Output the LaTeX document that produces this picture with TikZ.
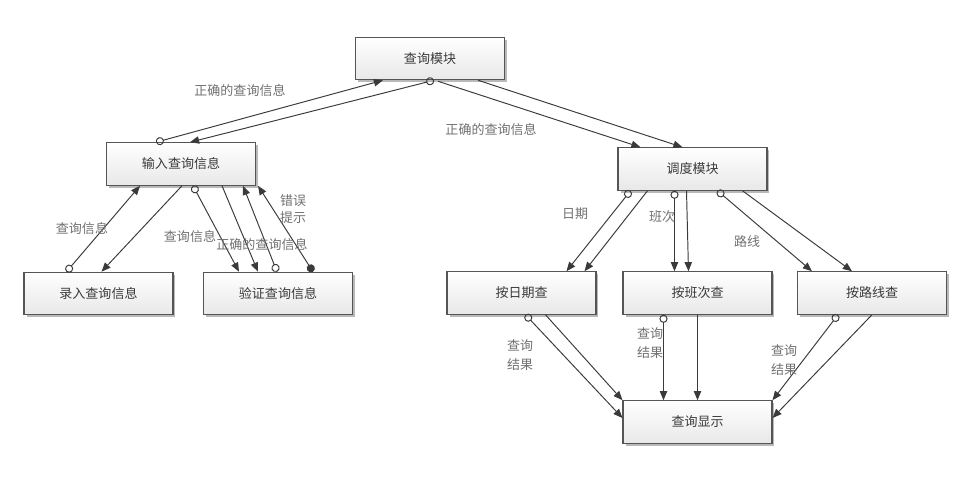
\documentclass[tikz,border=0pt]{standalone}
\usepackage{fontspec}
\setmainfont{Noto Sans CJK SC}
\usepackage{tikz}
\usetikzlibrary{arrows.meta, calc, shadows}
\definecolor{linie}{HTML}{3A3A3A}
\definecolor{schrift}{HTML}{3A3A3A}
\definecolor{notiz}{HTML}{707070}
\definecolor{rahmen}{HTML}{555555}

\begin{document}
\begin{tikzpicture}[x=0.02cm, y=-0.02cm,
    kasten/.style={draw=rahmen, line width=0.6pt, minimum width=2.98cm, minimum height=0.85cm,
      inner sep=0pt, top color=white, bottom color=gray!18, text=schrift,
      font=\fontsize{7.4}{8}\selectfont,
      drop shadow={shadow xshift=0.05cm, shadow yshift=-0.05cm, fill=gray!55, opacity=1}},
    fluss/.style={draw=linie, line width=0.55pt, -{Triangle[length=5.2pt, width=4.2pt]}},
    ring/.style={fluss, {Circle[open, length=4.6pt]}-{Triangle[length=5.2pt, width=4.2pt]}},
    punkt/.style={fluss, {Circle[length=4.6pt]}-{Triangle[length=5.2pt, width=4.2pt]}},
    beschr/.style={text=notiz, inner sep=1pt, align=center,
      font=\fontsize{7.4}{10.8}\selectfont}]
  \useasboundingbox (0,0) rectangle (978,499);

  % Module
  \foreach \n/\x/\y/\t in {chaxun/430/58.5/查询模块, shuru/181/164/输入查询信息,
      luru/98.5/293.5/录入查询信息, yanzheng/278/293.5/验证查询信息,
      diaodu/692.5/169/调度模块, riqi/521.5/293/按日期查,
      banci/697.5/293/按班次查, luxian/872/293/按路线查,
      xianshi/697.5/422/查询显示} {
    \node[kasten] (\n) at (\x,\y) {\t};
  }

  % oben
  \draw[ring] ($(shuru.north)+(-25,0)$) -- ($(chaxun.south)+(-47,0)$);
  \draw[ring] ($(chaxun.south)+(4,0)$) -- ($(shuru.north)+(9,0)$);
  \draw[fluss] ($(chaxun.south)+(8,1)$) -- ($(diaodu.north)+(-52,0)$);
  \draw[fluss] ($(chaxun.south)+(48,0)$) -- ($(diaodu.north)+(-10,0)$);
  \node[beschr] (l1) at (240,91) {正确的查询信息};
  \node[beschr] (l2) at (491,130) {正确的查询信息};

  % links
  \draw[ring] ($(luru.north)+(-32,0)$) -- ($(shuru.south)+(-41,0)$);
  \draw[fluss] ($(shuru.south)+(1,0)$) -- ($(luru.north)+(3,0)$);
  \draw[ring] ($(shuru.south)+(12,0)$) -- ($(yanzheng.north)+(-39,0)$);
  \draw[fluss] ($(shuru.south)+(41,0)$) -- ($(yanzheng.north)+(-20,0)$);
  \draw[ring] ($(yanzheng.north)+(-1,0)$) -- ($(shuru.south)+(62,0)$);
  \draw[punkt] ($(yanzheng.north)+(35,0)$) -- ($(shuru.south east)+(2,0)$);
  \node[beschr] (l3) at (82,229) {查询信息};
  \node[beschr] (l4) at (190,237) {查询信息};
  \node[beschr] (l5) at (262,245) {正确的查询信息};
  \node[beschr, font=\fontsize{7.4}{10}\selectfont] (l6) at (293,209) {错误\\提示};

  % rechts
  \draw[ring] ($(diaodu.south)+(-62,0)$) -- ($(riqi.north)+(45,0)$);
  \draw[fluss] ($(diaodu.south)+(-45,0)$) -- ($(riqi.north)+(63,0)$);
  \draw[ring] ($(diaodu.south)+(-18,0)$) -- ($(banci.north)+(-23,0)$);
  \draw[fluss] ($(diaodu.south)+(-6,0)$) -- ($(banci.north)+(-9,0)$);
  \draw[ring] ($(diaodu.south)+(25,0)$) -- ($(luxian.north)+(-60,0)$);
  \draw[fluss] ($(diaodu.south)+(50,0)$) -- ($(luxian.north)+(-20,0)$);
  \node[beschr] (l7) at (575,214) {日期};
  \node[beschr] (l8) at (662,217) {班次};
  \node[beschr] (l9) at (747,242) {路线};

  % unten
  \draw[ring] ($(riqi.south)+(4,0)$) -- ($(xianshi.west)+(0,-4)$);
  \draw[fluss] ($(riqi.south)+(24,0)$) -- (xianshi.north west);
  \draw[ring] ($(banci.south)+(-34,0)$) -- ($(xianshi.north)+(-34,0)$);
  \draw[fluss] (banci.south) -- (xianshi.north);
  \draw[ring] ($(luxian.south)+(-34,0)$) -- (xianshi.north east);
  \draw[fluss] (luxian.south) -- ($(xianshi.east)+(0,-4)$);
  \node[beschr] (l10) at (520,355) {查询\\结果};
  \node[beschr] (l11) at (650,343) {查询\\结果};
  \node[beschr] (l12) at (784,360) {查询\\结果};
\end{tikzpicture}
\end{document}
